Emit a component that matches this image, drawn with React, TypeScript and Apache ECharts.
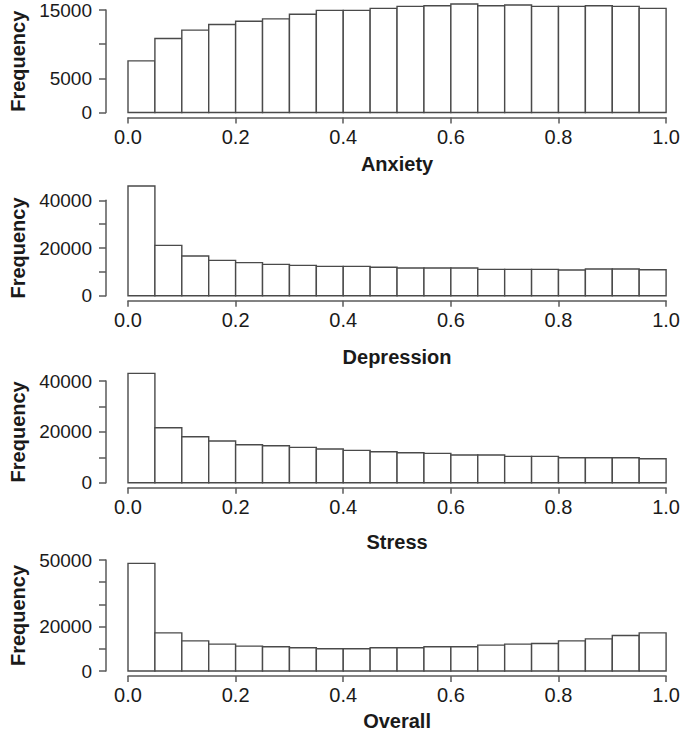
import React, { useEffect, useRef } from "react";
import * as echarts from "echarts";

// Bin edges (shared by all four histograms)
const binEdges = [0, 0.05, 0.1, 0.15, 0.2, 0.25, 0.3, 0.35, 0.4, 0.45, 0.5, 0.55, 0.6, 0.65, 0.7, 0.75, 0.8, 0.85, 0.9, 0.95, 1.0];

// Frequencies
const anxiety = [7550, 10840, 12050, 12870, 13360, 13700, 14370, 14950, 14950, 15240, 15530, 15630, 15870, 15630, 15730, 15530, 15530, 15630, 15530, 15240];
const depression = [46000, 21100, 16650, 14800, 13850, 13150, 12730, 12300, 12300, 11900, 11600, 11600, 11600, 11050, 11050, 11050, 10770, 11200, 11200, 10900];
const stress = [43000, 21630, 18100, 16400, 14950, 14550, 13900, 13240, 12720, 12190, 11800, 11540, 10880, 10880, 10360, 10360, 9830, 9830, 9830, 9440];
const overall = [48500, 17160, 13580, 12090, 11190, 10900, 10450, 10000, 10000, 10450, 10450, 10900, 10900, 11640, 12090, 12390, 13580, 14480, 15970, 17160];

const titles = ["Anxiety", "Depression", "Stress", "Overall"];
const seriesValues = [anxiety, depression, stress, overall];

// Y-axis ticks and which tick labels are printed
const yMax = [15000, 40000, 40000, 50000];
const yStep = [5000, 10000, 10000, 10000];
const yLabelsShown = [
  [0, 5000, 15000],
  [0, 20000, 40000],
  [0, 20000, 40000],
  [0, 20000, 50000],
];
const xTickStep = 0.2;

// Layout (pixels)
const layout = [
  { top: 10, height: 102.5, nameGap: 36 },
  { top: 200.3, height: 95.4, nameGap: 46 },
  { top: 381, height: 101.7, nameGap: 44 },
  { top: 560, height: 111.7, nameGap: 35 },
];

const FONT = "'Liberation Sans', Arial, Helvetica, sans-serif";
const AXIS_COLOR = "#5a5a5a";
const TEXT_COLOR = "#1a1a1a";

export default function App() {
  const ref = useRef<HTMLDivElement>(null);

  useEffect(() => {
    if (!ref.current) return;
    const chart = echarts.init(ref.current, undefined, { renderer: "svg" });

    const grids = layout.map((l) => ({ left: 128, right: 15, top: l.top, height: l.height }));

    const xAxes = layout.map((l, i) => ({
      type: "value",
      gridIndex: i,
      min: 0,
      max: 1,
      interval: xTickStep,
      offset: 5,
      splitLine: { show: false },
      axisLine: { show: true, onZero: false, lineStyle: { color: AXIS_COLOR, width: 1.5 } },
      axisTick: { show: true, length: 6, lineStyle: { color: AXIS_COLOR, width: 1.5 } },
      axisLabel: {
        fontSize: 20,
        fontFamily: FONT,
        color: TEXT_COLOR,
        margin: 9,
        formatter: (v: number) => v.toFixed(1),
      },
      name: titles[i],
      nameLocation: "middle",
      nameGap: l.nameGap,
      nameTextStyle: { fontSize: 20, fontWeight: "bold", fontFamily: FONT, color: TEXT_COLOR },
    }));

    const yAxes = layout.map((l, i) => ({
      type: "value",
      gridIndex: i,
      min: 0,
      max: yMax[i],
      interval: yStep[i],
      offset: 22,
      splitLine: { show: false },
      axisLine: { show: true, onZero: false, lineStyle: { color: AXIS_COLOR, width: 1.5 } },
      axisTick: { show: true, length: 7, lineStyle: { color: AXIS_COLOR, width: 1.5 } },
      axisLabel: {
        fontSize: 19,
        fontFamily: FONT,
        color: TEXT_COLOR,
        margin: 14,
        formatter: (v: number) => (yLabelsShown[i].includes(v) ? String(v) : ""),
      },
      name: "Frequency",
      nameLocation: "middle",
      nameRotate: 90,
      nameGap: 78,
      nameTextStyle: { fontSize: 20, fontWeight: "bold", fontFamily: FONT, color: TEXT_COLOR },
    }));

    const series = seriesValues.map((vals, i) => ({
      type: "custom",
      xAxisIndex: i,
      yAxisIndex: i,
      clip: false,
      encode: { x: [0, 1], y: 2 },
      data: vals.map((v, k) => [binEdges[k], binEdges[k + 1], v]),
      renderItem: (params: any, api: any) => {
        const p0 = api.coord([api.value(0), 0]);
        const p1 = api.coord([api.value(1), api.value(2)]);
        return {
          type: "rect",
          shape: { x: p0[0], y: p1[1], width: p1[0] - p0[0], height: p0[1] - p1[1] },
          style: { fill: "#ffffff", stroke: "#4a4a4a", lineWidth: 1.4 },
        };
      },
    }));

    chart.setOption({
      animation: false,
      backgroundColor: "#ffffff",
      grid: grids,
      xAxis: xAxes,
      yAxis: yAxes,
      series,
    } as any);

    return () => chart.dispose();
  }, []);

  return (
    <div
      ref={ref}
      style={{ position: "absolute", left: 0, top: 0, width: 683, height: 732, background: "#fff" }}
    />
  );
}
